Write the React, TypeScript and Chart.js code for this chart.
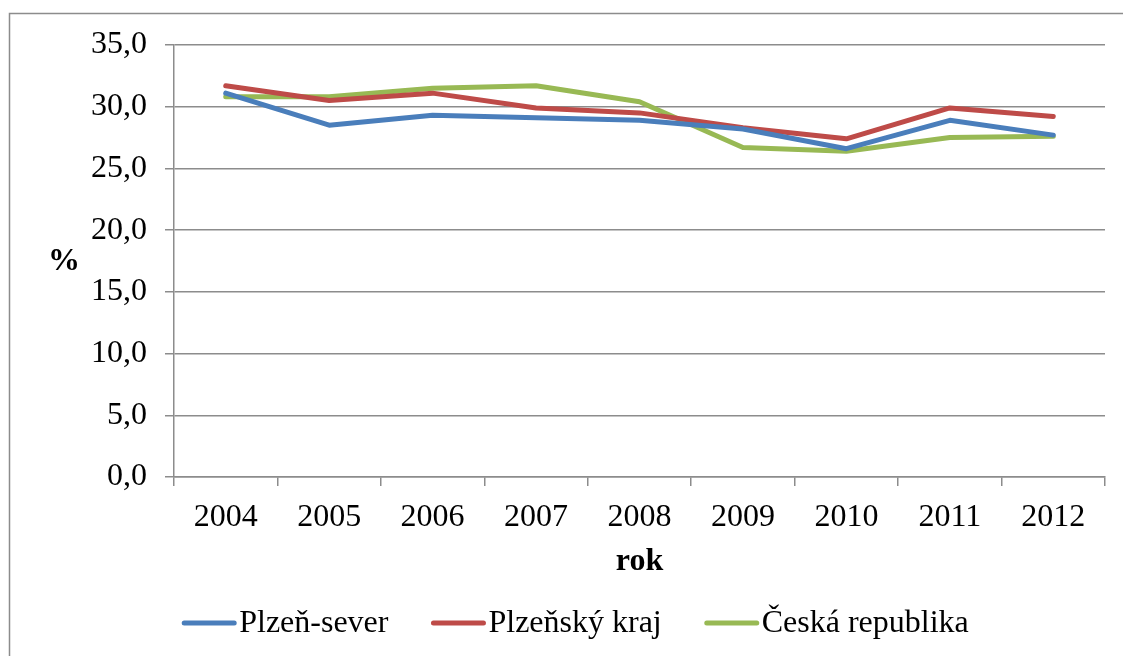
import React, { useEffect, useRef } from "react";
import { Chart, registerables } from "chart.js";

Chart.register(...registerables);

const categories = ["2004", "2005", "2006", "2007", "2008", "2009", "2010", "2011", "2012"];
const plzenSever = [31.1, 28.5, 29.3, 29.1, 28.9, 28.2, 26.6, 28.9, 27.7];
const plzenskyKraj = [31.7, 30.5, 31.1, 29.9, 29.5, 28.3, 27.4, 29.9, 29.2];
const ceskaRepublika = [30.8, 30.8, 31.5, 31.7, 30.4, 26.7, 26.4, 27.5, 27.6];
const seriesNames = ["Plzeň-sever", "Plzeňský kraj", "Česká republika"];
const seriesColors = ["#4a7ebb", "#be4b48", "#98b954"];
const yTitle = "%";
const xTitle = "rok";

const FONT = "'Liberation Serif', 'Times New Roman', serif";
const FS = 32;
const GRID = "#8c8c8c";

export default function App() {
  const ref = useRef<HTMLCanvasElement | null>(null);

  useEffect(() => {
    document.body.style.margin = "0";
    const canvas = ref.current;
    if (!canvas) return;

    const decor = {
      id: "decor",
      beforeDraw(chart: any) {
        const ctx = chart.ctx;
        ctx.save();
        ctx.strokeStyle = GRID;
        ctx.lineWidth = 1.5;
        ctx.beginPath();
        ctx.moveTo(9.5, 656);
        ctx.lineTo(9.5, 13.5);
        ctx.lineTo(1123, 13.5);
        ctx.stroke();
        ctx.restore();
      },
      afterDraw(chart: any) {
        const ctx = chart.ctx;
        const area = chart.chartArea;
        ctx.save();
        // y title (horizontal)
        ctx.fillStyle = "#000";
        ctx.font = `bold ${FS}px ${FONT}`;
        ctx.textAlign = "center";
        ctx.textBaseline = "middle";
        ctx.fillText(yTitle, 64, (area.top + area.bottom) / 2 + 1);

        // legend
        ctx.font = `${FS}px ${FONT}`;
        const boxW = 54;
        const gap = 3;
        const spacing = 43;
        const widths = seriesNames.map((n) => boxW + gap + ctx.measureText(n).width);
        const total = widths.reduce((a, b) => a + b, 0) + spacing * (seriesNames.length - 1);
        let x = 575.5 - total / 2;
        const y = 623;
        ctx.textAlign = "left";
        seriesNames.forEach((n, i) => {
          ctx.strokeStyle = seriesColors[i];
          ctx.lineWidth = 5;
          ctx.lineCap = "round";
          ctx.beginPath();
          ctx.moveTo(x + 2, y);
          ctx.lineTo(x + boxW - 2, y);
          ctx.stroke();
          ctx.fillStyle = "#000";
          ctx.fillText(n, x + boxW + gap, y + 1);
          x += widths[i] + spacing;
        });
        ctx.restore();
      },
    };

    const mk = (label: string, data: number[], color: string) => ({
      label,
      data,
      borderColor: color,
      backgroundColor: color,
      borderWidth: 5,
      pointRadius: 0,
      pointHoverRadius: 0,
      borderCapStyle: "round" as const,
      borderJoinStyle: "round" as const,
      tension: 0,
    });

    const chart = new Chart(canvas, {
      type: "line",
      data: {
        labels: categories,
        datasets: [
          mk(seriesNames[0], plzenSever, seriesColors[0]),
          mk(seriesNames[1], plzenskyKraj, seriesColors[1]),
          mk(seriesNames[2], ceskaRepublika, seriesColors[2]),
        ],
      },
      options: {
        animation: false,
        responsive: true,
        maintainAspectRatio: false,
        layout: { padding: { left: 0, top: 45, right: 18, bottom: 75 } },
        plugins: {
          legend: { display: false },
          tooltip: { enabled: false },
        },
        scales: {
          x: {
            offset: true,
            grid: {
              offset: true,
              drawOnChartArea: false,
              drawTicks: true,
              tickLength: 9,
              color: GRID,
              lineWidth: 1.5,
            },
            border: { color: GRID, width: 1.5 },
            ticks: {
              color: "#000",
              font: { family: FONT, size: FS },
              padding: 12,
              maxRotation: 0,
            },
            title: {
              display: true,
              text: xTitle,
              color: "#000",
              font: { family: FONT, size: FS, weight: "bold" },
              padding: { top: 4, bottom: 0 },
            },
            afterFit(scale: any) {
              scale.height = 104;
            },
          },
          y: {
            min: 0,
            max: 35,
            ticks: {
              stepSize: 5,
              color: "#000",
              font: { family: FONT, size: FS },
              padding: 18,
              callback: (v: any) => Number(v).toFixed(1).replace(".", ","),
            },
            grid: {
              color: GRID,
              lineWidth: 1.5,
              tickLength: 9,
            },
            border: { color: GRID, width: 1.5 },
            afterFit(scale: any) {
              scale.width = 174;
            },
          },
        },
      },
      plugins: [decor],
    });

    return () => chart.destroy();
  }, []);

  return (
    <div style={{ position: "fixed", left: 0, top: 0, width: 1123, height: 656, background: "#fff" }}>
      <canvas ref={ref} />
    </div>
  );
}
